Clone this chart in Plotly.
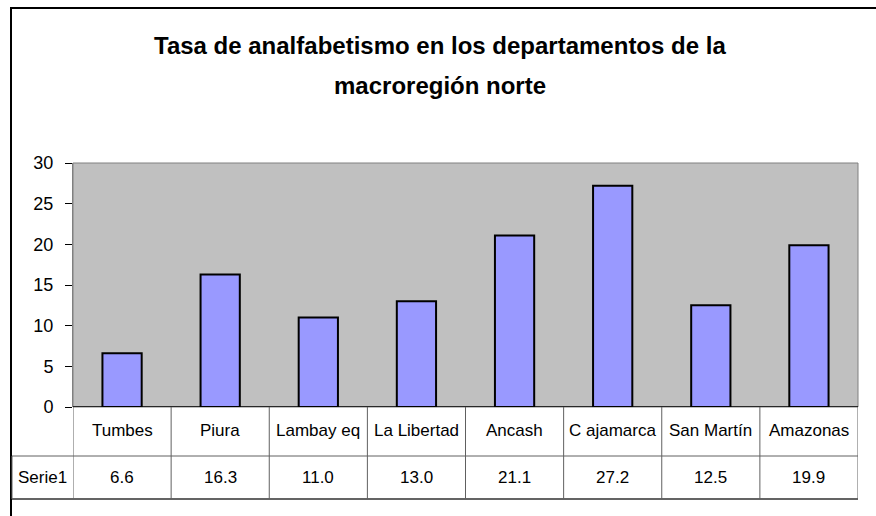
import plotly.graph_objects as go

categories = ["Tumbes", "Piura", "Lambayeq", "La Libertad", "Ancash", "Cajamarca", "San Martín", "Amazonas"]
table_labels = ["Tumbes", "Piura", "Lambay eq", "La Libertad", "Ancash", "C ajamarca", "San Martín", "Amazonas"]
values = [6.6, 16.3, 11.0, 13.0, 21.1, 27.2, 12.5, 19.9]
series_name = "Serie1"
title_lines = ["Tasa de analfabetismo en los departamentos de la", "macroregión norte"]
y_ticks = [0, 5, 10, 15, 20, 25, 30]

W, H = 876, 516
L, R, T, B = 73, 18, 163, 109
PW, PH = W - L - R, H - T - B

def px(x):
    return (x - L) / PW

def py(y):
    return (H - B - y) / PH

FONT = "Liberation Sans"

fig = go.Figure()
fig.add_trace(go.Bar(
    x=list(range(len(categories))), y=values, name=series_name,
    marker=dict(color="#9999FF", line=dict(color="black", width=2)),
    width=0.4, hoverinfo="skip"
))

shapes = []
shapes.append(dict(type="rect", xref="paper", yref="paper", x0=0, x1=1, y0=0, y1=1,
                   line=dict(color="#808080", width=1), layer="below"))
shapes.append(dict(type="rect", xref="paper", yref="paper", x0=px(11), x1=px(890), y0=py(8), y1=py(540),
                   line=dict(color="black", width=2)))
shapes.append(dict(type="line", xref="paper", yref="paper", x0=px(12), x1=1, y0=py(456), y1=py(456),
                   line=dict(color="#606060", width=1)))
shapes.append(dict(type="line", xref="paper", yref="paper", x0=px(12), x1=1, y0=py(499), y1=py(499),
                   line=dict(color="#303030", width=1.5)))
shapes.append(dict(type="line", xref="paper", yref="paper", x0=px(12), x1=px(12), y0=py(456), y1=py(499),
                   line=dict(color="#606060", width=1)))
for i in range(len(categories) + 1):
    shapes.append(dict(type="line", xref="x", yref="paper", x0=i - 0.5, x1=i - 0.5, y0=0, y1=py(499),
                       line=dict(color="#606060", width=1)))
shapes.append(dict(type="line", xref="paper", yref="y", x0=0, x1=1, y0=0, y1=0,
                   line=dict(color="black", width=1.5)))

annotations = []
for i, (lab, v) in enumerate(zip(table_labels, values)):
    annotations.append(dict(x=i, y=py(430), xref="x", yref="paper", text=lab, showarrow=False,
                            font=dict(family=FONT, size=17, color="black"), xanchor="center", yanchor="middle"))
    annotations.append(dict(x=i, y=py(477), xref="x", yref="paper", text=f"{v:.1f}", showarrow=False,
                            font=dict(family=FONT, size=17, color="black"), xanchor="center", yanchor="middle"))
annotations.append(dict(x=px(42.5), y=py(477), xref="paper", yref="paper", text=series_name, showarrow=False,
                        font=dict(family=FONT, size=17, color="black"), xanchor="center", yanchor="middle"))
annotations.append(dict(x=px(440), y=py(45), xref="paper", yref="paper", text=f"<b>{title_lines[0]}</b>",
                        showarrow=False, font=dict(family=FONT, size=24, color="black"),
                        xanchor="center", yanchor="middle"))
annotations.append(dict(x=px(440), y=py(85), xref="paper", yref="paper", text=f"<b>{title_lines[1]}</b>",
                        showarrow=False, font=dict(family=FONT, size=24, color="black"),
                        xanchor="center", yanchor="middle"))

fig.update_layout(
    width=W, height=H,
    margin=dict(l=L, r=R, t=T, b=B, pad=0),
    paper_bgcolor="white", plot_bgcolor="#C0C0C0",
    showlegend=False,
    shapes=shapes, annotations=annotations,
    xaxis=dict(range=[-0.5, len(categories) - 0.5], showticklabels=False, showgrid=False,
               zeroline=False, showline=False, ticks="", fixedrange=True),
    yaxis=dict(range=[0, 30], tickvals=y_ticks, showgrid=False, zeroline=False,
               showline=True, linecolor="#808080", linewidth=1,
               ticks="outside", ticklen=7, tickcolor="black", tickwidth=1,
               ticklabelstandoff=8,
               tickfont=dict(family=FONT, size=18, color="black"), fixedrange=True),
    font=dict(family=FONT),
)

fig.write_html("out.html", config={"displayModeBar": False},
               post_script="document.body.style.margin='0';document.body.style.overflow='hidden';")
